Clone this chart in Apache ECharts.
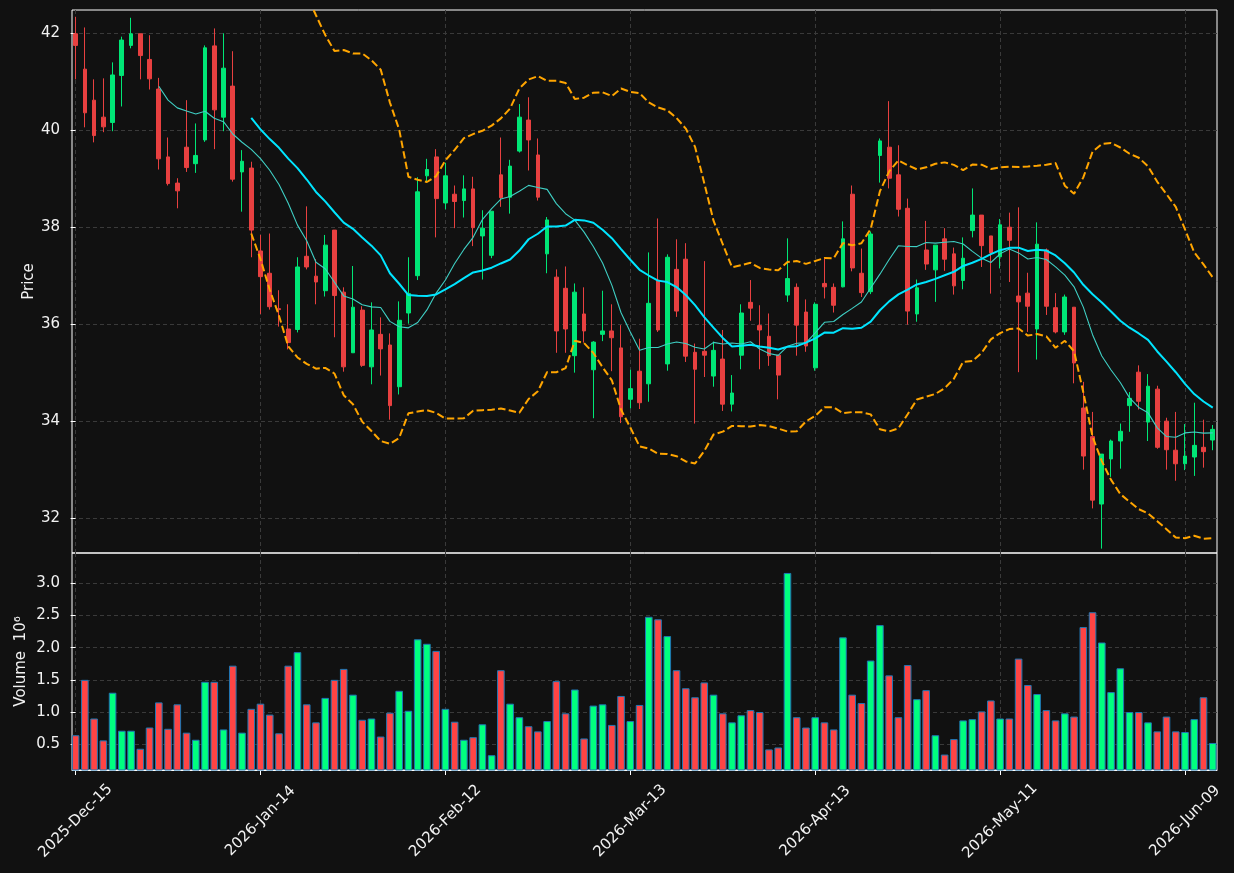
<!DOCTYPE html>
<html>
<head>
<meta charset="utf-8">
<title>Price and volume</title>
<script src="https://cdn.jsdelivr.net/npm/echarts@6/dist/echarts.min.js"></script>
<style>
  html, body { margin: 0; padding: 0; background: #111111; }
  #chart { width: 1234px; height: 873px; }
</style>
</head>
<body>
<div id="chart"></div>
<script>
// one row per trading day, index 0 = 2025-12-15
const opens = [
  41.99, 41.26, 40.62, 40.27, 40.16, 41.13, 41.75, 41.99, 41.46, 40.85,
  39.45, 38.91, 39.65, 39.31, 39.80, 41.74, 40.27, 40.91, 39.14, 39.22,
  37.51, 37.05, 36.32, 35.90, 35.89, 37.40, 36.99, 36.69, 37.94, 36.66,
  35.41, 36.29, 35.12, 35.79, 35.57, 34.71, 36.23, 37.00, 39.06, 39.45,
  38.50, 38.68, 38.55, 38.79, 37.82, 37.42, 39.08, 38.62, 39.57, 40.21,
  39.49, 37.45, 36.97, 36.74, 35.35, 36.21, 35.06, 35.79, 35.86, 35.51,
  34.45, 35.03, 34.77, 36.91, 35.18, 37.13, 37.34, 35.42, 35.44, 34.93,
  35.28, 34.35, 35.36, 36.45, 35.97, 35.75, 35.36, 36.60, 36.76, 36.25,
  35.10, 36.84, 36.76, 36.77, 38.68, 37.05, 36.67, 39.48, 39.65, 39.08,
  38.39, 36.21, 37.53, 37.12, 37.76, 37.45, 36.90, 37.93, 38.25, 37.82,
  37.39, 38.00, 36.58, 36.64, 35.90, 37.53, 36.34, 35.84, 36.35, 34.27,
  33.68, 32.29, 33.22, 33.59, 34.32, 35.01, 33.98, 34.66, 34.00, 33.40,
  33.12, 33.26, 33.46, 33.61
];
const closes = [
  41.75, 40.36, 39.89, 40.07, 41.14, 41.86, 41.99, 41.54, 41.06, 39.41,
  38.90, 38.75, 39.23, 39.48, 41.70, 40.42, 41.28, 38.99, 39.36, 37.94,
  36.98, 36.36, 36.30, 35.62, 37.18, 37.18, 36.87, 37.63, 36.59, 35.12,
  36.35, 35.15, 35.88, 35.49, 34.32, 36.08, 36.63, 38.73, 39.19, 38.59,
  39.06, 38.53, 38.79, 37.99, 37.98, 38.33, 38.61, 39.26, 40.27, 39.80,
  38.62, 38.15, 35.86, 35.90, 36.66, 35.86, 35.63, 35.86, 35.72, 34.09,
  34.67, 34.38, 36.43, 35.88, 37.38, 36.27, 35.34, 35.07, 35.36, 35.46,
  34.35, 34.58, 36.23, 36.33, 35.88, 35.35, 34.95, 36.94, 35.98, 35.55,
  36.41, 36.77, 36.39, 37.76, 37.16, 36.65, 37.86, 39.78, 39.01, 38.37,
  36.27, 36.75, 37.24, 37.63, 37.34, 36.79, 37.36, 38.25, 37.62, 37.47,
  38.05, 37.73, 36.46, 36.37, 37.65, 36.37, 35.84, 36.56, 35.20, 33.28,
  32.37, 33.32, 33.59, 33.79, 34.47, 34.41, 34.72, 33.46, 33.41, 33.12,
  33.28, 33.50, 33.37, 33.83
];
const lows = [
  41.05, 40.06, 39.75, 39.96, 39.98, 40.49, 41.69, 41.05, 40.84, 39.19,
  38.86, 38.39, 39.14, 39.12, 39.76, 39.61, 39.98, 38.94, 38.32, 37.38,
  36.21, 36.30, 35.95, 35.48, 35.83, 37.13, 36.41, 36.57, 35.73, 35.02,
  35.41, 35.12, 34.76, 34.94, 34.03, 34.55, 36.01, 36.91, 38.92, 37.79,
  38.37, 37.98, 38.20, 37.61, 36.92, 37.36, 38.42, 38.28, 39.54, 39.17,
  38.55, 37.05, 35.41, 35.41, 35.00, 35.62, 34.06, 35.65, 35.03, 33.96,
  34.26, 34.25, 34.40, 35.84, 35.04, 36.15, 35.22, 33.95, 34.91, 34.71,
  34.21, 34.20, 35.07, 36.07, 35.07, 35.14, 34.45, 36.46, 35.35, 35.43,
  35.04, 36.53, 36.24, 36.76, 37.09, 36.56, 36.62, 38.92, 38.80, 38.22,
  35.99, 36.05, 37.12, 36.46, 37.10, 36.61, 36.72, 37.79, 37.18, 36.63,
  37.15, 36.87, 35.01, 35.84, 35.27, 36.19, 35.81, 35.78, 34.78, 33.00,
  32.20, 31.37, 32.85, 33.02, 33.78, 34.24, 33.59, 33.43, 33.00, 32.77,
  32.99, 32.87, 33.04, 33.40
];
const highs = [
  42.34, 42.12, 41.05, 41.07, 41.40, 41.93, 42.32, 41.99, 41.96, 41.08,
  39.85, 39.01, 40.62, 40.14, 41.75, 42.10, 42.00, 41.63, 39.59, 39.35,
  37.84, 37.87, 36.70, 36.41, 37.38, 38.43, 37.34, 37.84, 37.94, 36.76,
  37.20, 36.37, 36.45, 36.14, 35.81, 36.47, 37.38, 39.03, 39.41, 39.61,
  39.33, 38.86, 39.07, 39.04, 38.35, 38.33, 39.85, 39.39, 40.54, 40.68,
  39.83, 38.21, 37.13, 37.19, 36.84, 36.76, 35.65, 36.69, 36.41, 35.98,
  35.06, 35.70, 37.48, 38.18, 37.44, 37.75, 37.67, 35.60, 37.30, 35.64,
  35.88, 34.95, 36.41, 36.91, 36.39, 36.22, 35.36, 37.77, 36.84, 36.51,
  36.45, 37.36, 36.84, 38.12, 38.86, 37.56, 37.91, 39.83, 40.60, 39.69,
  38.59, 36.92, 38.13, 37.63, 37.98, 37.58, 37.79, 38.80, 38.25, 37.82,
  38.17, 38.30, 38.41, 37.06, 38.10, 37.56, 36.64, 36.61, 36.35, 34.81,
  34.19, 33.32, 33.62, 33.95, 34.60, 35.15, 34.97, 34.73, 34.07, 34.19,
  33.94, 34.38, 34.03, 33.92
];
// volume in millions of shares
const volumes = [
  0.64, 1.50, 0.90, 0.56, 1.30, 0.71, 0.71, 0.43, 0.76, 1.15,
  0.74, 1.12, 0.68, 0.57, 1.47, 1.47, 0.73, 1.72, 0.68, 1.05,
  1.13, 0.96, 0.67, 1.72, 1.93, 1.12, 0.84, 1.22, 1.50, 1.67,
  1.27, 0.88, 0.90, 0.62, 0.99, 1.33, 1.02, 2.13, 2.06, 1.95,
  1.05, 0.85, 0.57, 0.61, 0.81, 0.33, 1.65, 1.13, 0.92, 0.78,
  0.70, 0.86, 1.48, 0.98, 1.35, 0.59, 1.10, 1.12, 0.80, 1.25,
  0.86, 1.11, 2.48, 2.44, 2.18, 1.65, 1.37, 1.23, 1.46, 1.27,
  0.98, 0.84, 0.95, 1.03, 1.00, 0.42, 0.45, 3.16, 0.92, 0.76,
  0.92, 0.84, 0.73, 2.16, 1.27, 1.14, 1.80, 2.35, 1.57, 0.92,
  1.73, 1.20, 1.34, 0.64, 0.34, 0.58, 0.87, 0.89, 1.01, 1.18,
  0.90, 0.90, 1.83, 1.42, 1.28, 1.03, 0.87, 0.98, 0.93, 2.32,
  2.55, 2.08, 1.31, 1.68, 1.00, 1.00, 0.84, 0.70, 0.93, 0.70,
  0.69, 0.89, 1.23, 0.52
];

const dateTicks = [0, 20, 40, 60, 80, 100, 120];
const dateLabels = ['2025-Dec-15', '2026-Jan-14', '2026-Feb-12', '2026-Mar-13',
  '2026-Apr-13', '2026-May-11', '2026-Jun-09'];
const priceTicks = [32, 34, 36, 38, 40, 42];
const volumeTicks = [0.5, 1.0, 1.5, 2.0, 2.5, 3.0];

const UP = '#00e676';
const DOWN = '#e84040';
const VOL_UP = '#00ff7f';
const VOL_DOWN = '#ff4444';
const FONT = 'DejaVu Sans';
const FONT_SIZE = 15;
const TEXT = '#f2f2f2';
const GRID_LINE = { show: true, lineStyle: { color: '#3a3a3a', width: 1, type: [4, 3] } };
const BAND_LINE = { color: '#ffa500', width: 2, type: [7.5, 3.3] };

// rolling indicators, computed from the closes like the source chart did
function rolling(n, fn) {
  const out = [];
  for (let i = n - 1; i < closes.length; i++) {
    out.push([i, fn(closes.slice(i - n + 1, i + 1))]);
  }
  return out;
}
const mean = a => a.reduce((s, v) => s + v, 0) / a.length;
const std = a => { const m = mean(a); return Math.sqrt(mean(a.map(v => (v - m) * (v - m)))); };
const ma10 = rolling(10, mean);
const ma20 = rolling(20, mean);
const bbUpper = rolling(20, a => mean(a) + 2 * std(a));
const bbLower = rolling(20, a => mean(a) - 2 * std(a));

const X_MIN = -0.39, X_MAX = 123.46;

const chart = echarts.init(document.getElementById('chart'));
chart.setOption({
  animation: false,
  backgroundColor: '#111111',
  textStyle: { fontFamily: FONT },
  grid: [
    { left: 72, right: 17, top: 10, height: 543, show: true, borderColor: '#ffffff', borderWidth: 1 },
    { left: 72, right: 17, top: 553, height: 217, show: true, borderColor: '#ffffff', borderWidth: 1 }
  ],
  xAxis: [
    {
      type: 'value', gridIndex: 0, min: X_MIN, max: X_MAX,
      axisLine: { show: false },
      axisTick: { show: false, customValues: dateTicks },
      axisLabel: { show: false, customValues: dateTicks },
      splitLine: GRID_LINE
    },
    {
      type: 'value', gridIndex: 1, min: X_MIN, max: X_MAX,
      axisLine: { show: true, lineStyle: { color: '#ffffff' } },
      axisTick: { show: true, length: 5, customValues: dateTicks, lineStyle: { color: '#ffffff' } },
      axisLabel: {
        customValues: dateTicks,
        formatter: v => dateLabels[Math.round(v / 20)],
        rotate: 45, align: 'center', verticalAlign: 'middle', margin: 51,
        color: TEXT, fontSize: FONT_SIZE, fontFamily: FONT
      },
      splitLine: GRID_LINE
    }
  ],
  yAxis: [
    {
      type: 'value', gridIndex: 0, min: 31.28, max: 42.48,
      name: 'Price', nameLocation: 'middle', nameGap: 35, nameMoveOverlap: false,
      nameTextStyle: { color: TEXT, fontSize: FONT_SIZE, fontFamily: FONT },
      axisLine: { show: false },
      axisTick: { show: true, length: 5, customValues: priceTicks, lineStyle: { color: '#ffffff' } },
      axisLabel: { customValues: priceTicks, color: TEXT, fontSize: FONT_SIZE, fontFamily: FONT, margin: 12 },
      splitLine: GRID_LINE
    },
    {
      type: 'value', gridIndex: 1, min: 0.10, max: 3.47,
      name: 'Volume  10\u2076', nameLocation: 'middle', nameGap: 43, nameMoveOverlap: false,
      nameTextStyle: { color: TEXT, fontSize: FONT_SIZE, fontFamily: FONT },
      axisLine: { show: false },
      axisTick: { show: true, length: 5, customValues: volumeTicks, lineStyle: { color: '#ffffff' } },
      axisLabel: {
        customValues: volumeTicks, formatter: v => v.toFixed(1),
        color: TEXT, fontSize: FONT_SIZE, fontFamily: FONT, margin: 12
      },
      splitLine: GRID_LINE
    }
  ],
  series: [
    {
      type: 'candlestick', xAxisIndex: 0, yAxisIndex: 0,
      data: opens.map((o, i) => [i, o, closes[i], lows[i], highs[i]]),
      encode: { x: 0, y: [1, 2, 3, 4] },
      barWidth: 4.2,
      itemStyle: { color: UP, color0: DOWN, borderColor: UP, borderColor0: DOWN, borderWidth: 1 }
    },
    {
      type: 'line', xAxisIndex: 0, yAxisIndex: 0, data: ma10,
      showSymbol: false, lineStyle: { color: '#3fcfc4', width: 1.1 }
    },
    {
      type: 'line', xAxisIndex: 0, yAxisIndex: 0, data: ma20,
      showSymbol: false, lineStyle: { color: '#00e5ff', width: 2 }
    },
    {
      type: 'line', xAxisIndex: 0, yAxisIndex: 0, data: bbUpper,
      showSymbol: false, lineStyle: BAND_LINE
    },
    {
      type: 'line', xAxisIndex: 0, yAxisIndex: 0, data: bbLower,
      showSymbol: false, lineStyle: BAND_LINE
    },
    {
      type: 'bar', xAxisIndex: 1, yAxisIndex: 1,
      data: volumes.map((v, i) => ({
        value: [i, v],
        itemStyle: { color: closes[i] >= opens[i] ? VOL_UP : VOL_DOWN }
      })),
      barWidth: 7.6,
      itemStyle: { borderColor: '#1f77b4', borderWidth: 1 }
    }
  ]
});
</script>
</body>
</html>
